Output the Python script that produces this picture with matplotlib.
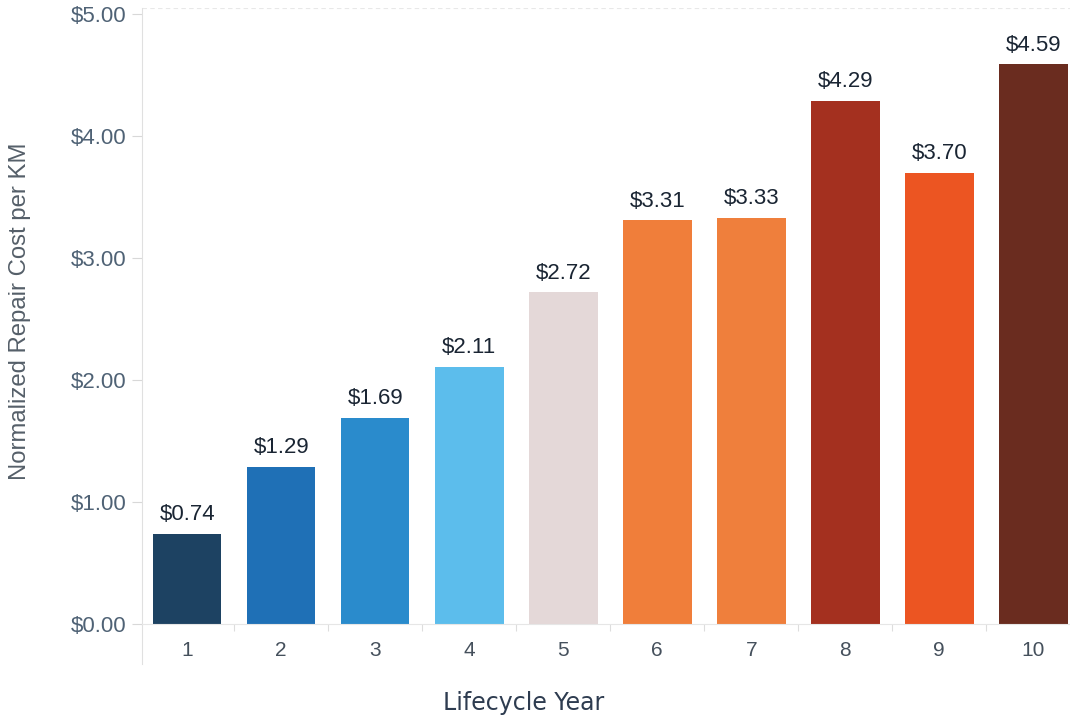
import matplotlib
matplotlib.use("Agg")
import matplotlib.pyplot as plt
from matplotlib.ticker import FuncFormatter

plt.rcParams['font.family'] = ['Liberation Sans', 'DejaVu Sans']

years = [1, 2, 3, 4, 5, 6, 7, 8, 9, 10]
costs = [0.74, 1.29, 1.69, 2.11, 2.72, 3.31, 3.33, 4.29, 3.70, 4.59]
colors = ['#1d4262', '#1f70b6', '#2a8bcc', '#5cbdec', '#e4d8d8',
          '#f07e3a', '#ef7f3c', '#a4301f', '#ec5522', '#6a2c1f']
yticks = [0, 1, 2, 3, 4, 5]

W, H = 1070, 717
fig = plt.figure(figsize=(W / 100, H / 100), dpi=100)
ax = fig.add_axes([142 / W, 1 - 624 / H, (W - 142) / W, (624 - 8) / H])

ax.bar(years, costs, width=0.73, color=colors, zorder=2)
for x, v in zip(years, costs):
    ax.text(x, v + 0.07, f"${v:.2f}", ha='center', va='bottom',
            fontsize=16, color='#1a2533')

ax.set_xlim(0.52, 10.39)
ax.set_ylim(0, 5.05)
ax.set_yticks(yticks)
ax.yaxis.set_major_formatter(FuncFormatter(lambda v, p: f"${v:.2f}"))
ax.set_xticks(years)
ax.set_xticklabels([str(y) for y in years])
ax.tick_params(axis='y', colors='#d8d8d8', labelcolor='#4f6275', labelsize=16,
               length=7, width=0.8, pad=4)
ax.tick_params(axis='x', length=0, labelcolor='#45505c', labelsize=15, pad=12)

# small separators between categories
ax.set_xticks([y + 0.5 for y in years[:-1]], minor=True)
ax.tick_params(axis='x', which='minor', length=5, color='#dddddd', width=0.8)

for s in ['top', 'right']:
    ax.spines[s].set_visible(False)
ax.spines['left'].set_color('#e0e0e0')
ax.spines['bottom'].set_color('#e6e6e6')
ax.spines['left'].set_bounds(-0.33, 5.05)
ax.axhline(5.05, color='#e8e8e8', lw=0.8, ls=(0, (4, 3)), zorder=1)

fig.text(20 / W, 1 - 311 / H, "Normalized Repair Cost per KM", rotation=90,
         ha='center', va='center', fontsize=17.2, color='#555f69')
fig.text(524 / W, 1 - 703 / H, "Lifecycle Year", ha='center', va='center',
         fontsize=17, color='#2e3c50', family='DejaVu Sans')

fig.savefig("out.png", dpi=100)
